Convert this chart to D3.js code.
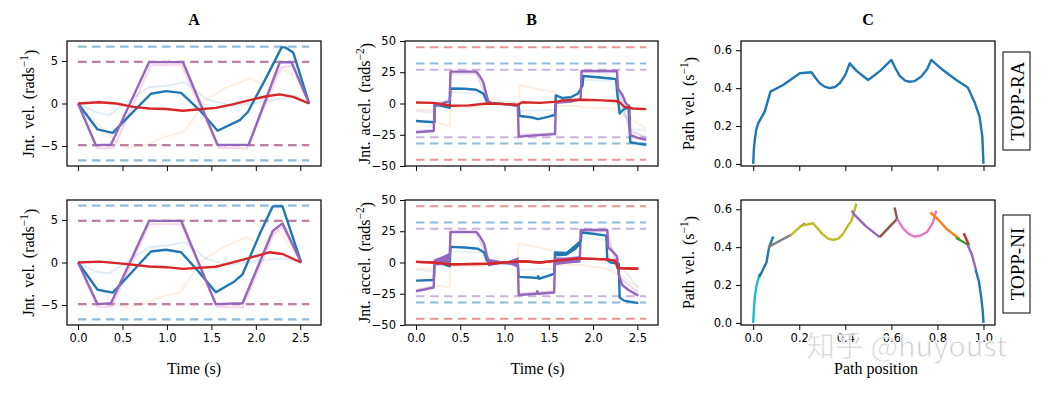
<!DOCTYPE html>
<html>
<head>
<meta charset="utf-8">
<script src="https://cdn.jsdelivr.net/npm/d3@7"></script>
<style>
body { margin: 0; background: #fff; }
.tick text { font-family: "DejaVu Sans", sans-serif; font-size: 11.5px; fill: #000; }
.tick line { stroke: #000; stroke-width: 1; }
.domain { display: none; }
.lbl { font-family: "Liberation Serif", "Times New Roman", serif; font-size: 16px; fill: #000; }
</style>
</head>
<body>
<script>
// ---- data ----
var timeTicks = [0, 0.5, 1, 1.5, 2, 2.5];
var velTicks = [-5, 0, 5];
var accTicks = [-50, -25, 0, 25, 50];
var pathTicks = [0, 0.2, 0.4, 0.6];
var posTicks = [0, 0.2, 0.4, 0.6, 0.8, 1.0];
var rowNames = ["TOPP-RA", "TOPP-NI"];
var titles = ["A", "B", "C"];

// limits (dashed), t from 0 to 2.6
var velLimits = [[6.7, "#1f77b4"], [4.9, "#d62728"], [4.9, "#9467bd"]];
var accLimits = [[45, "#d62728"], [32, "#1f77b4"], [27, "#9467bd"]];
var limitSpan = [0, 2.6];

// A, TOPP-RA
var velRA_blue = [[0,0],[0.22,-3.05],[0.39,-3.45],[0.6,-1.2],[0.82,1.15],[0.99,1.45],[1.16,1.25],[1.37,-0.8],[1.57,-3.2],[1.82,-1.95],[1.91,-1.0],[2.12,3.1],[2.29,6.6],[2.33,6.6],[2.42,6.0],[2.6,0]];
var velRA_purple = [[0,0],[0.2,-4.9],[0.37,-4.85],[0.8,4.87],[1.18,4.87],[1.57,-4.87],[1.92,-4.85],[2.27,4.85],[2.4,4.87],[2.6,0]];
var velRA_red = [[0,0],[0.24,0.15],[0.43,0],[0.62,-0.4],[0.8,-0.58],[0.99,-0.65],[1.18,-0.85],[1.37,-0.68],[1.55,-0.52],[1.74,-0.1],[1.93,0.4],[2.12,0.85],[2.27,1.08],[2.42,0.78],[2.6,0]];
var velRA_fBlue = [[0,0],[0.2,-1.0],[0.35,-1.4],[0.55,0.2],[0.8,1.9],[1.0,2.1],[1.2,2.5],[1.45,0.5],[1.75,-0.3],[2.0,0.1],[2.3,0.6],[2.45,0.9],[2.6,0]];
var velRA_fOrange = [[0,0],[0.2,-2.2],[0.4,-4.2],[0.55,-5.2],[0.75,-5.0],[0.95,-4.0],[1.2,-3.3],[1.45,0.5],[1.65,1.8],[1.95,3.0],[2.1,2.0],[2.3,4.0],[2.45,3.2],[2.6,0]];
var velRA_fPink = [[0,0],[0.22,-5.3],[0.4,-5.2],[0.82,4.5],[1.16,4.6],[1.58,-5.2],[1.9,-5.3],[2.28,4.2],[2.42,4.5],[2.6,0]];

// A, TOPP-NI
var velNI_blue = [[0,0],[0.22,-3.2],[0.39,-3.55],[0.6,-1.2],[0.82,1.3],[0.99,1.5],[1.16,1.2],[1.35,-1.0],[1.55,-3.5],[1.75,-2.3],[1.85,-1.4],[2.05,3.5],[2.19,6.6],[2.3,6.6],[2.51,0]];
var velNI_purple = [[0,0],[0.22,-4.9],[0.37,-4.8],[0.8,4.9],[1.16,4.9],[1.55,-4.9],[1.85,-4.8],[2.19,3.7],[2.3,4.6],[2.51,0]];
var velNI_red = [[0,0],[0.24,0.1],[0.47,-0.1],[0.8,-0.47],[0.99,-0.55],[1.18,-0.75],[1.55,-0.5],[1.85,0.3],[2.15,1.2],[2.3,1.0],[2.51,0]];
var velNI_fBlue = [[0,0],[0.2,-1.1],[0.35,-1.3],[0.55,0.1],[0.8,1.8],[1.0,2.0],[1.2,2.4],[1.45,0.4],[1.7,-0.3],[2.0,0.2],[2.3,0.5],[2.51,0]];
var velNI_fOrange = [[0,0],[0.2,-2.4],[0.4,-4.8],[0.55,-5.3],[0.75,-4.8],[0.95,-4.0],[1.15,-3.5],[1.4,0.3],[1.65,1.9],[1.9,3.0],[2.05,2.0],[2.25,3.8],[2.51,0]];
var velNI_fPink = [[0,0],[0.22,-5.3],[0.38,-5.2],[0.8,4.5],[1.16,4.5],[1.56,-5.2],[1.85,-5.3],[2.2,3.3],[2.3,4.2],[2.51,0]];

// B, TOPP-RA
var accRA_blue = [[0,-14],[0.21,-15],[0.21,-1],[0.3,-2],[0.38,-3.5],[0.39,12],[0.55,11.8],[0.68,11],[0.76,8],[0.8,2],[0.85,0.5],[1.0,-0.5],[1.16,-1.5],[1.17,-10],[1.3,-11],[1.38,-12.5],[1.5,-10.5],[1.57,-9],[1.58,6.5],[1.65,4.5],[1.75,5],[1.83,8],[1.88,14],[1.89,22],[2.05,21],[2.2,20],[2.26,19.5],[2.27,10],[2.3,-8],[2.34,-5],[2.4,-3],[2.42,-31],[2.5,-32],[2.6,-33]];
var accRA_purple = [[0,-23],[0.2,-22],[0.21,-2],[0.3,0],[0.38,2],[0.39,25.5],[0.68,25.5],[0.72,22],[0.76,17],[0.8,6],[0.82,0.5],[1.0,-0.5],[1.15,-2],[1.16,-26.5],[1.35,-25.5],[1.57,-24.5],[1.58,0.5],[1.75,1.5],[1.86,3.5],[1.87,26],[2.27,26],[2.28,12],[2.33,7],[2.37,0],[2.41,-2],[2.42,-25],[2.5,-27.5],[2.6,-29]];
var accRA_red = [[0,0.8],[0.2,0.5],[0.4,-1.8],[0.6,-1.5],[0.8,0],[1.0,-0.5],[1.15,-1],[1.2,1],[1.4,0.5],[1.6,1.5],[1.65,2.5],[1.9,3],[2.1,2.5],[2.25,2],[2.3,1],[2.35,-2.5],[2.45,-4],[2.6,-4.5]];
var accRA_fOrange = [[0,-5],[0.2,-5],[0.21,-15],[0.38,-18],[0.39,-3],[0.75,-3],[0.8,5],[0.85,2],[1.16,1],[1.17,15],[1.4,11],[1.57,9],[1.58,-2],[1.86,-2],[1.87,-3],[2.27,-4],[2.3,-8],[2.42,-12],[2.6,-20]];
var accRA_fBlue = [[0,-6],[0.2,-7],[0.21,0],[0.38,-1],[0.39,9],[0.75,8],[0.8,1],[1.16,0],[1.17,-6],[1.57,-5],[1.58,3],[1.86,4],[1.87,19],[2.27,18],[2.3,0],[2.42,-20],[2.6,-22]];
var accRA_fPurple = [[0,-22],[0.2,-21],[0.21,-1],[0.38,3],[0.39,24],[0.68,24],[0.8,5],[0.82,0],[1.15,-1],[1.16,-25],[1.57,-23.5],[1.58,1],[1.86,4],[1.87,25],[2.27,25],[2.3,8],[2.42,-22],[2.6,-27]];

// B, TOPP-NI
var accNI_blue = [[0,-14.5],[0.2,-14],[0.21,0],[0.3,-1],[0.38,-3],[0.39,12.5],[0.55,12],[0.7,11],[0.77,8],[0.8,1.5],[0.9,0],[1.15,-1],[1.16,-11.5],[1.3,-12],[1.37,-12.5],[1.38,-11],[1.39,-13],[1.5,-10.5],[1.56,-9],[1.57,7.5],[1.62,6],[1.72,7.5],[1.8,11],[1.86,17],[1.87,24],[2.0,23],[2.15,21.5],[2.16,2],[2.2,0],[2.29,-1],[2.3,-28],[2.35,-30.5],[2.51,-32.5]];
var accNI_purple = [[0,-23],[0.2,-20],[0.21,0],[0.38,4],[0.39,24.5],[0.68,24.5],[0.72,21],[0.77,15],[0.8,6],[0.82,1],[1.15,-1],[1.16,-26],[1.36,-25],[1.37,-23],[1.38,-25],[1.56,-24],[1.57,0.5],[1.85,3],[1.86,26],[2.16,26],[2.17,12],[2.22,9],[2.27,5],[2.29,-10],[2.33,-18],[2.4,-22],[2.51,-26.5]];
var accNI_red = [[0,0.5],[0.2,0],[0.4,-1.5],[0.8,-1],[1.0,0],[1.2,1],[1.4,0],[1.6,1.5],[1.85,3.3],[2.15,2.5],[2.25,1.5],[2.28,-4.5],[2.51,-5]];
var accNI_fOrange = [[0,-5],[0.2,-5],[0.21,-18],[0.38,-20],[0.39,-3],[0.75,-3],[0.8,5],[0.85,1],[1.15,1],[1.16,15],[1.4,12],[1.56,9],[1.57,-2],[1.86,-2],[2.16,-5],[2.3,-10],[2.51,-20]];
var accNI_fBlue = [[0,-6],[0.2,-7],[0.21,0],[0.38,-1],[0.39,9],[0.75,8],[0.8,1],[1.15,0],[1.16,-6],[1.56,-5],[1.57,3],[1.86,4],[1.87,20],[2.16,18],[2.3,-2],[2.51,-20]];
var accNI_fPurple = [[0,-22],[0.2,-19],[0.21,1],[0.38,3],[0.39,23.5],[0.68,23.5],[0.8,5],[0.82,0],[1.15,-1],[1.16,-25],[1.56,-23],[1.57,1],[1.85,3],[1.86,25],[2.16,25],[2.3,-12],[2.51,-24]];
// chattering bands of the NI joints: [t, low, high]
var accNI_chatter = [
  [[0.21,-2,2],[0.3,-1.5,4.5],[0.38,0,7]],
  [[0.82,-2.5,2.5],[0.95,-0.7,0.7],[1.05,-0.7,0.7],[1.15,-3.5,3.5]],
  [[1.57,-1.5,3.5],[1.7,-0.5,3.5],[1.85,0.5,4.5]]
];
var accNI_blueChatter = [
  [[1.57,5.5,8.5],[1.7,6,8],[1.85,14,17]]
];

// C
var pathRA = [[0,0],[0.003,0.08],[0.007,0.127],[0.013,0.18],[0.022,0.215],[0.05,0.276],[0.075,0.382],[0.13,0.417],[0.2025,0.479],[0.253,0.484],[0.27,0.455],[0.289,0.426],[0.31,0.408],[0.332,0.4],[0.355,0.406],[0.376,0.426],[0.4,0.47],[0.419,0.531],[0.45,0.49],[0.499,0.443],[0.55,0.49],[0.6,0.549],[0.62,0.5],[0.636,0.465],[0.66,0.44],[0.679,0.434],[0.7,0.437],[0.73,0.461],[0.755,0.5],[0.773,0.549],[0.8,0.52],[0.824,0.496],[0.882,0.443],[0.932,0.403],[0.96,0.33],[0.983,0.25],[0.995,0.144],[1.0,0]];
var pathNI_segs = [
  [[0,0],[0.003,0.07],[0.007,0.137],[0.015,0.2],[0.029,0.26]],
  [[0.026,0.242],[0.04,0.275],[0.058,0.32],[0.069,0.4],[0.087,0.456]],
  [[0.065,0.4],[0.11,0.43],[0.166,0.466]],
  [[0.2,0.505],[0.225,0.525]],
  [[0.16,0.46],[0.21,0.514],[0.26,0.526],[0.3,0.47],[0.325,0.445],[0.347,0.438],[0.37,0.445],[0.39,0.47],[0.415,0.52],[0.427,0.54],[0.448,0.63]],
  [[0.427,0.593],[0.44,0.57],[0.49,0.51],[0.549,0.453]],
  [[0.549,0.453],[0.625,0.549],[0.614,0.61]],
  [[0.625,0.55],[0.65,0.5],[0.675,0.47],[0.7,0.456],[0.725,0.46],[0.755,0.48],[0.78,0.53],[0.795,0.593]],
  [[0.769,0.584],[0.8,0.55],[0.84,0.496],[0.896,0.443]],
  [[0.88,0.45],[0.94,0.409]],
  [[0.914,0.474],[0.936,0.414]],
  [[0.93,0.415],[0.95,0.36],[0.968,0.277]],
  [[0.966,0.28],[0.98,0.22],[0.99,0.137],[0.997,0.06],[1.0,0]]
];
var pathNI_colors = ["#17becf","#1f77b4","#7f7f7f","#7f7f7f","#bcbd22","#9467bd","#8c564b","#e377c2","#ff7f0e","#2ca02c","#d62728","#9467bd","#1f77b4"];

// ---- layout ----
var width = 1048, height = 395;
var colX = [[67, 321], [405, 658], [741, 995]];
var rowY = [[41, 166], [200, 325]];

var svg = d3.select("body").append("svg")
  .attr("width", width).attr("height", height);

var line = d3.line();

function drawPanel(col, row, xDomain, yDomain, xTicks, yTicks, xFmt, yFmt) {
  var x = d3.scaleLinear().domain(xDomain).range(colX[col]);
  var y = d3.scaleLinear().domain(yDomain).range([rowY[row][1], rowY[row][0]]);
  var g = svg.append("g");

  g.append("g")
    .attr("transform", "translate(0," + rowY[row][1] + ")")
    .call(d3.axisBottom(x).tickValues(xTicks).tickSize(5).tickPadding(4)
      .tickFormat(row == 1 ? xFmt : ""));
  g.append("g")
    .attr("transform", "translate(" + colX[col][0] + ",0)")
    .call(d3.axisLeft(y).tickValues(yTicks).tickSize(5).tickPadding(4).tickFormat(yFmt));

  var plot = g.append("g");
  return {x: x, y: y, g: g, plot: plot};
}

function frame(p, col, row) {
  p.g.append("rect")
    .attr("x", colX[col][0]).attr("y", rowY[row][0])
    .attr("width", colX[col][1] - colX[col][0])
    .attr("height", rowY[row][1] - rowY[row][0])
    .style("fill", "none").style("stroke", "#111").style("stroke-width", 1.3);
}

function addLine(p, data, color, opacity, w) {
  line.x(d => p.x(d[0])).y(d => p.y(d[1]));
  p.plot.append("path")
    .attr("d", line(data))
    .style("fill", "none")
    .style("stroke", color)
    .style("stroke-opacity", opacity)
    .style("stroke-width", w)
    .style("stroke-linejoin", "round");
}

function addLimits(p, limits) {
  limits.forEach(function(l) {
    [l[0], -l[0]].forEach(function(v) {
      p.plot.append("line")
        .attr("x1", p.x(limitSpan[0])).attr("x2", p.x(limitSpan[1]))
        .attr("y1", p.y(v)).attr("y2", p.y(v))
        .style("stroke", l[1]).style("stroke-opacity", 0.5)
        .style("stroke-width", 2.2)
        .style("stroke-dasharray", "8.5,5.5");
    });
  });
}

function addBands(p, bands, color) {
  var area = d3.area().x(d => p.x(d[0])).y0(d => p.y(d[1])).y1(d => p.y(d[2]));
  bands.forEach(function(b) {
    p.plot.append("path").attr("d", area(b))
      .style("fill", color).style("stroke", color).style("stroke-width", 1.5);
  });
}

var minusFmt = d => d3.format("d")(d).replace("-", "\u2212");
var fmt1 = d => d3.format(".1f")(d);
var tDomain = [-0.124, 2.733];

var velSets = [
  [velRA_fBlue, velRA_fOrange, velRA_fPink, velRA_blue, velRA_purple, velRA_red],
  [velNI_fBlue, velNI_fOrange, velNI_fPink, velNI_blue, velNI_purple, velNI_red]
];
var accSets = [
  [accRA_fBlue, accRA_fOrange, accRA_fPurple, accRA_blue, accRA_purple, accRA_red],
  [accNI_fBlue, accNI_fOrange, accNI_fPurple, accNI_blue, accNI_purple, accNI_red]
];
var faintStyle = [["#1f77b4", 0.14], ["#ff7f0e", 0.12], ["#e377c2", 0.3]];
var faintStyleB = [["#1f77b4", 0.1], ["#ff7f0e", 0.13], ["#9467bd", 0.25]];
var mainColors = ["#1f77b4", "#9467bd", "#d62728"];

[0, 1].forEach(function(row) {
  // A
  var pa = drawPanel(0, row, tDomain, [-7.35, 7.35], timeTicks, velTicks, fmt1, minusFmt);
  addLimits(pa, velLimits);
  velSets[row].forEach(function(s, i) {
    if (i < 3) addLine(pa, s, faintStyle[i][0], faintStyle[i][1], 2);
    else addLine(pa, s, mainColors[i - 3], 1, 2.4);
  });
  frame(pa, 0, row);

  // B
  var pb = drawPanel(1, row, tDomain, [-50, 50], timeTicks, accTicks, fmt1, minusFmt);
  addLimits(pb, accLimits);
  accSets[row].forEach(function(s, i) {
    if (i < 3) addLine(pb, s, faintStyleB[i][0], faintStyleB[i][1], 2);
    else addLine(pb, s, mainColors[i - 3], 1, 2.4);
  });
  if (row == 1) {
    addBands(pb, accNI_blueChatter, "#1f77b4");
    addBands(pb, accNI_chatter, "#9467bd");
    addLine(pb, accNI_red, "#d62728", 1, 2.4);
  }
  frame(pb, 1, row);

  // C
  var pc = drawPanel(2, row, [-0.053, 1.05], [-0.011, 0.649], posTicks, pathTicks, fmt1, fmt1);
  if (row == 0) addLine(pc, pathRA, "#1f77b4", 1, 2.4);
  else pathNI_segs.forEach(function(s, i) { addLine(pc, s, pathNI_colors[i], 1, 2.4); });
  frame(pc, 2, row);

  // row name box
  var cy = row == 0 ? 101 : 264;
  svg.append("rect").attr("x", 1003).attr("y", cy - 49).attr("width", 27).attr("height", 98)
    .style("fill", "#fff").style("stroke", "#000").style("stroke-width", 1);
  svg.append("text").attr("class", "lbl")
    .attr("transform", "translate(1017," + cy + ") rotate(-90)")
    .attr("text-anchor", "middle").attr("dy", "0.35em")
    .style("font-size", "19px")
    .text(rowNames[row]);

  // y labels
  var ylabs = [["Jnt. vel. (rads", ")", 28], ["Jnt. accel. (rads", ")", 364], ["Path vel. (s", ")", 688]];
  var sups = ["\u22121", "\u22122", "\u22121"];
  ylabs.forEach(function(l, i) {
    var midY = (rowY[row][0] + rowY[row][1]) / 2;
    var t = svg.append("text").attr("class", "lbl")
      .attr("transform", "translate(" + l[2] + "," + midY + ") rotate(-90)")
      .attr("text-anchor", "middle").attr("dy", "0.35em")
      .style("font-size", "16px").style("word-spacing", "2px");
    t.append("tspan").text(l[0]);
    t.append("tspan").attr("dy", "-0.45em").style("font-size", "11.5px").text(sups[i]);
    t.append("tspan").attr("dy", "0.45em").text(l[1]);
  });
});

// titles
titles.forEach(function(tt, i) {
  svg.append("text").attr("class", "lbl")
    .attr("x", (colX[i][0] + colX[i][1]) / 2).attr("y", 25)
    .attr("text-anchor", "middle")
    .style("font-weight", "bold").style("font-size", "16px")
    .text(tt);
});

// x labels
[["Time (s)", 0, 0], ["Time (s)", 1, 6], ["Path position", 2, 8]].forEach(function(l) {
  svg.append("text").attr("class", "lbl")
    .attr("x", (colX[l[1]][0] + colX[l[1]][1]) / 2 + l[2]).attr("y", 374)
    .attr("text-anchor", "middle")
    .text(l[0]);
});

// watermark (sits on top of the tick labels, as in the source image)
svg.append("text")
  .attr("x", 806).attr("y", 357)
  .style("font-family", "'Noto Sans CJK SC', 'Noto Sans', sans-serif")
  .style("font-size", "29px")
  .style("fill", "#c4c4c4").style("fill-opacity", 0.8)
  .style("stroke", "#ffffff").style("stroke-width", 0.8)
  .text("知乎 @huyoust");
</script>
</body>
</html>
